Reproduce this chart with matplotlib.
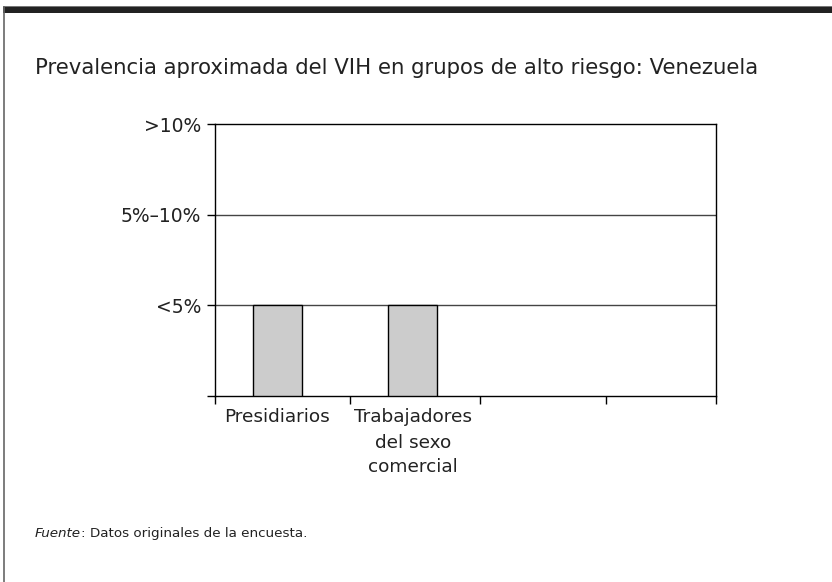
import matplotlib.pyplot as plt
from matplotlib.lines import Line2D
from matplotlib.patches import Rectangle

# prevalence level per group: 1 = <5%, 2 = 5%-10%, 3 = >10%
groups = ["Presidiarios", "Trabajadores\ndel sexo\ncomercial"]
levels = [1, 1]
level_labels = ["", "<5%", "5%–10%", ">10%"]

bar_pos = [0.46, 1.46]
boundaries = [0, 1.0, 1.96, 2.89, 3.7]

plt.rcParams['font.family'] = ['DejaVu Sans']

fig = plt.figure(figsize=(8.32, 5.82), dpi=100)

# frame: dark band on top, thin line on the left
fig.patches.append(Rectangle((3 / 832, 1 - 13 / 582), 1, 7 / 582, transform=fig.transFigure,
                             facecolor='#222222', edgecolor='none'))
fig.patches.append(Rectangle((3 / 832, 1 - 7 / 582), 1, 1.5 / 582, transform=fig.transFigure,
                             facecolor='#777777', edgecolor='none'))
fig.lines.append(Line2D([3.5 / 832, 3.5 / 832], [0, 1 - 7 / 582], transform=fig.transFigure,
                        color='#666666', lw=1.2))

fig.text(35 / 832, 1 - 68 / 582, "Prevalencia aproximada del VIH en grupos de alto riesgo: Venezuela",
         fontsize=15.3, va='center', ha='left', color='#222222')
src = fig.text(35 / 832, 1 - 537 / 582, "Fuente", fontsize=9.7, style='italic', va='baseline',
               ha='left', color='#222222')
fig.canvas.draw()
bb = src.get_window_extent()
fig.text(bb.x1 / 832, 1 - 537 / 582, ": Datos originales de la encuesta.", fontsize=9.7,
         va='baseline', ha='left', color='#222222')

ax = fig.add_axes([215 / 832, 1 - 396 / 582, 501 / 832, 272 / 582])
ax.bar(bar_pos, levels, width=0.36, color='#cccccc', edgecolor='black', linewidth=1, zorder=3)

ax.set_ylim(0, 3)
ax.set_xlim(boundaries[0], boundaries[-1])
ax.set_yticks(range(len(level_labels)))
ax.set_yticklabels(level_labels, fontsize=13.5, color='#222222')
for y in (1, 2):
    ax.axhline(y, color='#444444', lw=1, zorder=1)

ax.set_xticks(boundaries)
ax.set_xticklabels([])
ax.set_xticks(bar_pos, minor=True)
ax.set_xticklabels(groups, minor=True, fontsize=13.3, linespacing=1.5, va='top', color='#222222')
ax.tick_params(axis='x', which='minor', length=0, pad=9)
ax.tick_params(axis='both', which='major', length=6, width=1, direction='out')
ax.tick_params(axis='y', pad=4)

for s in ax.spines.values():
    s.set_linewidth(1)

fig.savefig("out.png", dpi=100)
